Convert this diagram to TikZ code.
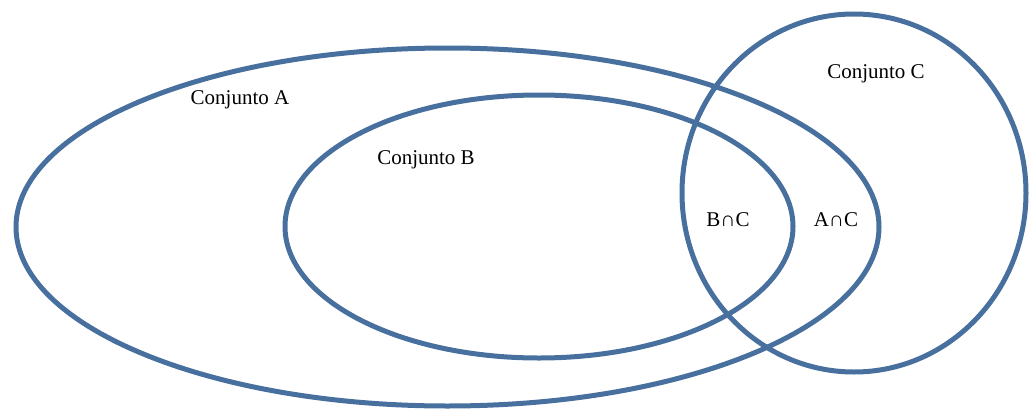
\documentclass[tikz,border=0pt]{standalone}
\usepackage{fontspec}
\setmainfont{Liberation Serif}
\definecolor{setblue}{RGB}{72,112,158}
\begin{document}
\begin{tikzpicture}[x=1pt,y=-1pt,
  setline/.style={draw=setblue,line width=5pt},
  lbl/.style={inner sep=0pt,font=\fontsize{21}{25}\selectfont}]
\useasboundingbox (0,0) rectangle (1029,410);
\draw[setline] (447.5,227) ellipse [x radius=431.5, y radius=179];
\draw[setline] (539,226.5) ellipse [x radius=254, y radius=131.5];
\draw[setline] (854,193) ellipse [x radius=172, y radius=179];
\node[lbl] (la) at (240,100) {Conjunto A};
\node[lbl] (lb) at (426,160) {Conjunto B};
\node[lbl] (lc) at (876,74) {Conjunto C};
\node[lbl] (lbc) at (728,220) {B∩C};
\node[lbl] (lac) at (836,220) {A∩C};
\end{tikzpicture}
\end{document}
